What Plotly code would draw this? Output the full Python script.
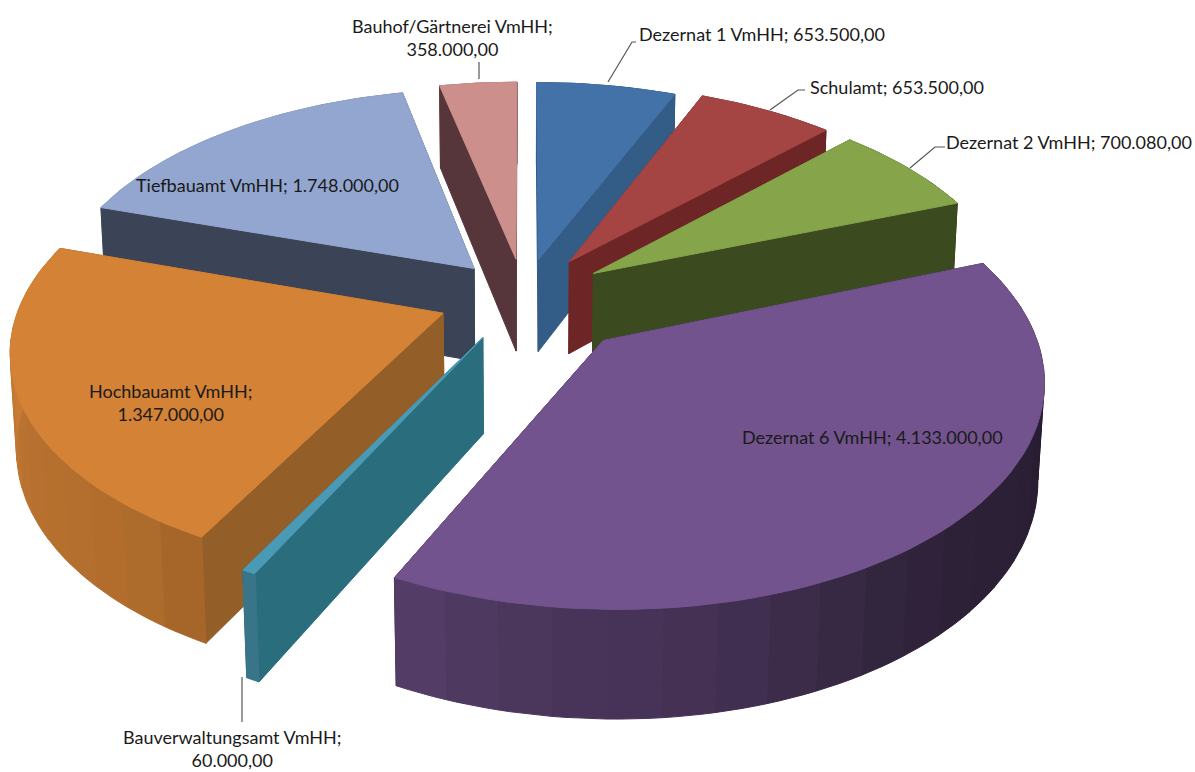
import numpy as np
import plotly.graph_objects as go

categories = ["Dezernat 1 VmHH", "Schulamt", "Dezernat 2 VmHH", "Dezernat 6 VmHH",
              "Bauverwaltungsamt VmHH", "Hochbauamt VmHH", "Tiefbauamt VmHH", "Bauhof/Gärtnerei VmHH"]
values = [653500.0, 653500.0, 700080.0, 4133000.0, 60000.0, 1347000.0, 1748000.0, 358000.0]
value_labels = ["653.500,00", "653.500,00", "700.080,00", "4.133.000,00",
                "60.000,00", "1.347.000,00", "1.748.000,00", "358.000,00"]
pull = [0.18, 0.20, 0.20, 0.27, 0.21, 0.205, 0.18, 0.18]
top_colors = ["#4272a8", "#a54543", "#86a44a", "#72538d", "#4a9ab5", "#d38236", "#93a6cf", "#cd8f8b"]
side_colors = ["#335c86", "#6e2526", "#3c4a20", "#2a2040", "#2a6e7e", "#945e28", "#3b4357", "#56363a"]

# view settings of the perspective pie
CX, CY, RX, RY, PERSP, DEPTH, SHRINK = 524.0, 296.5, 421.0, 214.0, 0.15, 95.0, 0.012
warp_true = [0, 24.4, 48.7, 74.8, 228.9, 231.2, 281.4, 346.6, 360]
warp_view = [0, 22.5, 44.5, 69, 206, 207.7, 288, 347.5, 360]


def proj(X, Y, Z):
    X, Y = np.asarray(X, float), np.asarray(Y, float)
    w = 1 + PERSP * Y + SHRINK * Z
    return CX + RX * X / w, CY - (RY * Y - DEPTH * Z) / w


def rgb(h):
    return np.array([int(h[i:i + 2], 16) for i in (1, 3, 5)], float)


fig = go.Figure()


def poly(x, y, color):
    x, y = np.r_[x, x[0]], np.r_[y, y[0]]
    fig.add_trace(go.Scatter(x=x, y=y, mode="lines", fill="toself", fillcolor=color,
                             line=dict(color=color, width=1), hoverinfo="skip", showlegend=False))


cum = np.r_[0, np.cumsum(values)] / np.sum(values) * 360
a0 = np.interp(cum[:-1], warp_true, warp_view)
a1 = np.interp(cum[1:], warp_true, warp_view)
mid = (a0 + a1) / 2
order = np.argsort(-np.cos(np.radians(mid)))

for i in order:
    t0, t1, m = a0[i], a1[i], np.radians(mid[i])
    ox, oy = pull[i] * np.sin(m), pull[i] * np.cos(m)
    n = max(int((t1 - t0) / 6), 1)
    edges = np.linspace(t0, t1, n + 1)
    base = rgb(top_colors[i])

    def strip(a, b):
        tt = np.radians(np.linspace(a, b, 5))
        xs, ys = ox + np.sin(tt), oy + np.cos(tt)
        ux, uy = proj(xs, ys, 0)
        lx, ly = proj(xs, ys, 1)
        c = np.radians((a + b) / 2)
        f = 0.62 - 0.3 * np.sin(c) + 0.02 * np.sin(7 * c)
        col = base * f
        poly(np.r_[ux, lx[::-1]], np.r_[uy, ly[::-1]],
             f"rgb({col[0]:.0f},{col[1]:.0f},{col[2]:.0f})")

    strips = list(zip(edges[:-1], edges[1:]))
    for a, b in strips:
        if np.cos(np.radians((a + b) / 2)) > 0:
            strip(a, b)
    for ang in sorted([t0, t1], key=lambda q: -np.cos(np.radians(q))):
        r = np.radians(ang)
        xs, ys = np.array([ox, ox + np.sin(r)]), np.array([oy, oy + np.cos(r)])
        ux, uy = proj(xs, ys, 0)
        lx, ly = proj(xs, ys, 1)
        poly(np.r_[ux, lx[::-1]], np.r_[uy, ly[::-1]], side_colors[i])
    for a, b in strips:
        if np.cos(np.radians((a + b) / 2)) <= 0:
            strip(a, b)
    tt = np.radians(np.linspace(t0, t1, 60))
    ux, uy = proj(np.r_[ox, ox + np.sin(tt)], np.r_[oy, oy + np.cos(tt)], 0)
    poly(ux, uy, top_colors[i])

leaders = [
    ([636, 632, 608], [42, 42, 82]),
    ([805, 798, 770], [90, 90, 110]),
    ([945, 935, 910], [147, 147, 168]),
    ([479, 479], [62, 79]),
    ([242, 242], [677, 722]),
]
for lx, ly in leaders:
    fig.add_trace(go.Scatter(x=lx, y=ly, mode="lines", line=dict(color="#555555", width=1.2),
                             hoverinfo="skip", showlegend=False))

label_x = [762, 897, 1069, 872, 232, 170, 267, 452]
label_y = [34, 87, 142, 437, 748, 402, 185, 37]
two_line = {4, 5, 7}
for i, name in enumerate(categories):
    sep = ";<br>" if i in two_line else "; "
    fig.add_annotation(x=label_x[i], y=label_y[i], text=name + sep + value_labels[i], showarrow=False,
                       font=dict(family="Lato", size=18, color="#1a1a1a"), align="center")

fig.update_layout(width=1195, height=772, margin=dict(l=0, r=0, t=0, b=0),
                  paper_bgcolor="white", plot_bgcolor="white", showlegend=False,
                  xaxis=dict(range=[0, 1195], visible=False, fixedrange=True),
                  yaxis=dict(range=[772, 0], visible=False, fixedrange=True))
fig.write_html("out.html", config=dict(displayModeBar=False),
               post_script="document.body.style.margin='0';document.documentElement.style.overflow='hidden';")
